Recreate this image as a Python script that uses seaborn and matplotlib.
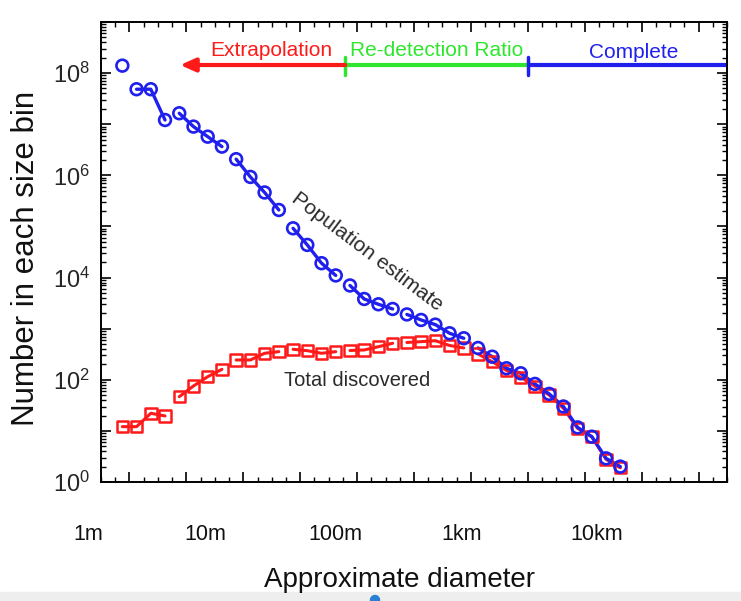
import numpy as np
import pandas as pd
import matplotlib
matplotlib.use("Agg")
import matplotlib.pyplot as plt
import seaborn as sns
from matplotlib.ticker import MultipleLocator, FixedLocator, FuncFormatter, LogLocator, NullFormatter
from matplotlib.patches import Rectangle, Ellipse

# ---------------- data ----------------
# absolute-magnitude bin centres (x axis runs from faint/small at left to bright/large at right)
H_bins = [30.25, 29.75, 29.25, 28.75, 28.25, 27.75, 27.25, 26.75, 26.25, 25.75,
          25.25, 24.75, 24.25, 23.75, 23.25, 22.75, 22.25, 21.75, 21.25, 20.75,
          20.25, 19.75, 19.25, 18.75, 18.25, 17.75, 17.25, 16.75, 16.25, 15.75,
          15.25, 14.75, 14.25, 13.75, 13.25, 12.75]
population_estimate = [1.40e8, 4.84e7, 4.84e7, 1.21e7, 1.64e7, 8.98e6, 5.71e6, 3.65e6, 2.07e6, 9.31e5,
                       4.62e5, 2.10e5, 9.2e4, 4.35e4, 1.91e4, 1.10e4, 7.0e3, 3.81e3, 3.0e3, 2.43e3,
                       1.90e3, 1.48e3, 1.20e3, 813, 649, 419, 283, 168, 134, 83,
                       53, 30, 11.7, 7.7, 2.9, 2.0]
total_discovered = [12.1, 12.1, 22.1, 19.6, 46.7, 75.6, 115, 160, 244, 244,
                    330, 355, 395, 371, 330, 355, 374, 383, 444, 518,
                    537, 557, 582, 469, 419, 320, 226, 152, 112, 74.6,
                    50.4, 27.7, 11.2, 7.7, 2.78, 1.9]
pop_segments = [0, 1, 1, 1, 2, 2, 2, 2, 3, 3, 3, 3, 4, 4, 4, 4, 5, 5, 5, 5,
                6, 6, 6, 6, 6, 7, 7, 7, 7, 7, 7, 7, 7, 7, 7, 7]
disc_segments = [0, 0, 0, 0, 2, 2, 2, 2, 3, 3, 3, 3, 4, 4, 4, 4, 5, 5, 5, 5,
                 6, 6, 6, 6, 6, 7, 7, 7, 7, 7, 7, 7, 7, 7, 7, 7]
diameter_labels = ["1m", "10m", "100m", "1km", "10km"]
diameter_label_H = [31.45, 27.35, 22.78, 18.31, 13.57]
regime_labels = ["Extrapolation", "Re-detection Ratio", "Complete"]
regime_bounds_H = [22.42, 16.0]

df_pop = pd.DataFrame({"H": H_bins, "N": population_estimate, "seg": pop_segments})
df_disc = pd.DataFrame({"H": H_bins, "N": total_discovered, "seg": disc_segments})

# ---------------- style ----------------
sns.set_style("ticks")
plt.rcParams["font.family"] = ["Liberation Sans", "DejaVu Sans"]
plt.rcParams["mathtext.fontset"] = "custom"
plt.rcParams["mathtext.rm"] = "Liberation Sans"
plt.rcParams["mathtext.it"] = "Liberation Sans"
plt.rcParams["mathtext.default"] = "rm"

BLUE = "#1f1fee"
RED = "#ff1a1a"
GREEN = "#2ee62e"
TXT = "#2a2a2a"

fig = plt.figure(figsize=(7.41, 6.01), dpi=100)
ax = fig.add_axes([101 / 741, 1 - 482 / 601, 626 / 741, 460 / 601])
ax.set_yscale("log")

# discovered (red squares)
sns.lineplot(data=df_disc, x="H", y="N", units="seg", estimator=None, sort=False,
             color=RED, lw=2.2, ax=ax, legend=False)
sns.scatterplot(data=df_disc, x="H", y="N", marker="s", s=68, facecolor="none",
                edgecolor=RED, linewidth=1.8, ax=ax, legend=False, zorder=3)
# population estimate (blue circles)
sns.lineplot(data=df_pop, x="H", y="N", units="seg", estimator=None, sort=False,
             color=BLUE, lw=2.4, ax=ax, legend=False)
sns.scatterplot(data=df_pop, x="H", y="N", marker="o", s=72, facecolor="none",
                edgecolor=BLUE, linewidth=1.9, ax=ax, legend=False, zorder=4)

ax.set_xlim(31, 9)
ax.set_ylim(1, 1e9)

# ticks
ax.xaxis.set_major_locator(MultipleLocator(2))
ax.xaxis.set_minor_locator(MultipleLocator(0.5))
ax.xaxis.set_major_formatter(NullFormatter())
ax.yaxis.set_major_locator(FixedLocator([10.0 ** k for k in range(0, 10)]))
ax.yaxis.set_minor_locator(LogLocator(base=10, subs=np.arange(2, 10), numticks=100))
ax.yaxis.set_minor_formatter(NullFormatter())
ax.yaxis.set_major_formatter(FuncFormatter(
    lambda v, p: (r"$10^{%d}$" % round(np.log10(v))) if round(np.log10(v)) % 2 == 0 else ""))
ax.tick_params(which="both", direction="in", top=True, right=True, color="black")
ax.tick_params(which="major", length=7, width=1.2, labelsize=17, pad=8)
ax.tick_params(which="minor", length=3.5, width=1.0)
for sp in ax.spines.values():
    sp.set_linewidth(1.4)
    sp.set_color("black")

# axis labels
ax.set_xlabel("Approximate diameter", fontsize=20, color="#111111")
ax.xaxis.label.set_va("center")
ax.xaxis.set_label_coords((400 - 101) / 626, (482 - 580) / 460)
ax.set_ylabel("Number in each size bin", fontsize=22.5, color="#111111")
ax.yaxis.label.set_va("center")
ax.yaxis.set_label_coords((26 - 101) / 626, (482 - 258) / 460)

# diameter tick labels
xt = ax.get_xaxis_transform()
for lab, h in zip(diameter_labels, diameter_label_H):
    ax.text(h, (482 - 534) / 460, lab, transform=xt, ha="center", va="center",
            fontsize=15.5, color="#111111", clip_on=False)

# regime annotations at the top
y_line = (482 - 65) / 460
y_txt = (482 - 51) / 460
tick_lo, tick_hi = (482 - 75) / 460, (482 - 57) / 460
ax.annotate("", xy=(28.22, y_line), xytext=(regime_bounds_H[0], y_line),
            xycoords=xt, textcoords=xt,
            arrowprops=dict(arrowstyle="-|>,head_length=0.9,head_width=0.4",
                            color=RED, lw=3, shrinkA=0, shrinkB=0))
ax.plot([regime_bounds_H[0], regime_bounds_H[1]], [y_line, y_line], color=GREEN, lw=3,
        transform=xt, solid_capstyle="butt")
ax.plot([regime_bounds_H[1], 9], [y_line, y_line], color=BLUE, lw=3, transform=xt,
        solid_capstyle="butt", clip_on=False)
ax.plot([regime_bounds_H[0]] * 2, [tick_lo, tick_hi], color=GREEN, lw=2.5, transform=xt)
ax.plot([regime_bounds_H[1]] * 2, [tick_lo, tick_hi], color=BLUE, lw=2.5, transform=xt)
ax.text(25.0, y_txt, regime_labels[0], color=RED, fontsize=15, ha="center", va="center", transform=xt)
ax.text(19.2, y_txt, regime_labels[1], color=GREEN, fontsize=15, ha="center", va="center", transform=xt)
ax.text(12.27, y_txt - 0.004, regime_labels[2], color=BLUE, fontsize=15, ha="center", va="center", transform=xt)

# curve labels
ax.text(21.65, (482 - 252) / 460, "Population estimate", transform=xt, rotation=-37,
        rotation_mode="anchor", ha="center", va="center", fontsize=15, color=TXT)
ax.text(22.0, (482 - 380) / 460, "Total discovered", transform=xt, ha="center", va="center",
        fontsize=14.5, color=TXT)

# screenshot bottom strip
fig.add_artist(Rectangle((0, 0), 1, 9 / 601, transform=fig.transFigure, color="#eeeeee", zorder=-1))
fig.add_artist(Ellipse((375 / 741, 1 / 601), 9 / 741, 9 / 601, transform=fig.transFigure,
                       color="#2a7fd4", zorder=5))

fig.savefig("out.png", dpi=100)
